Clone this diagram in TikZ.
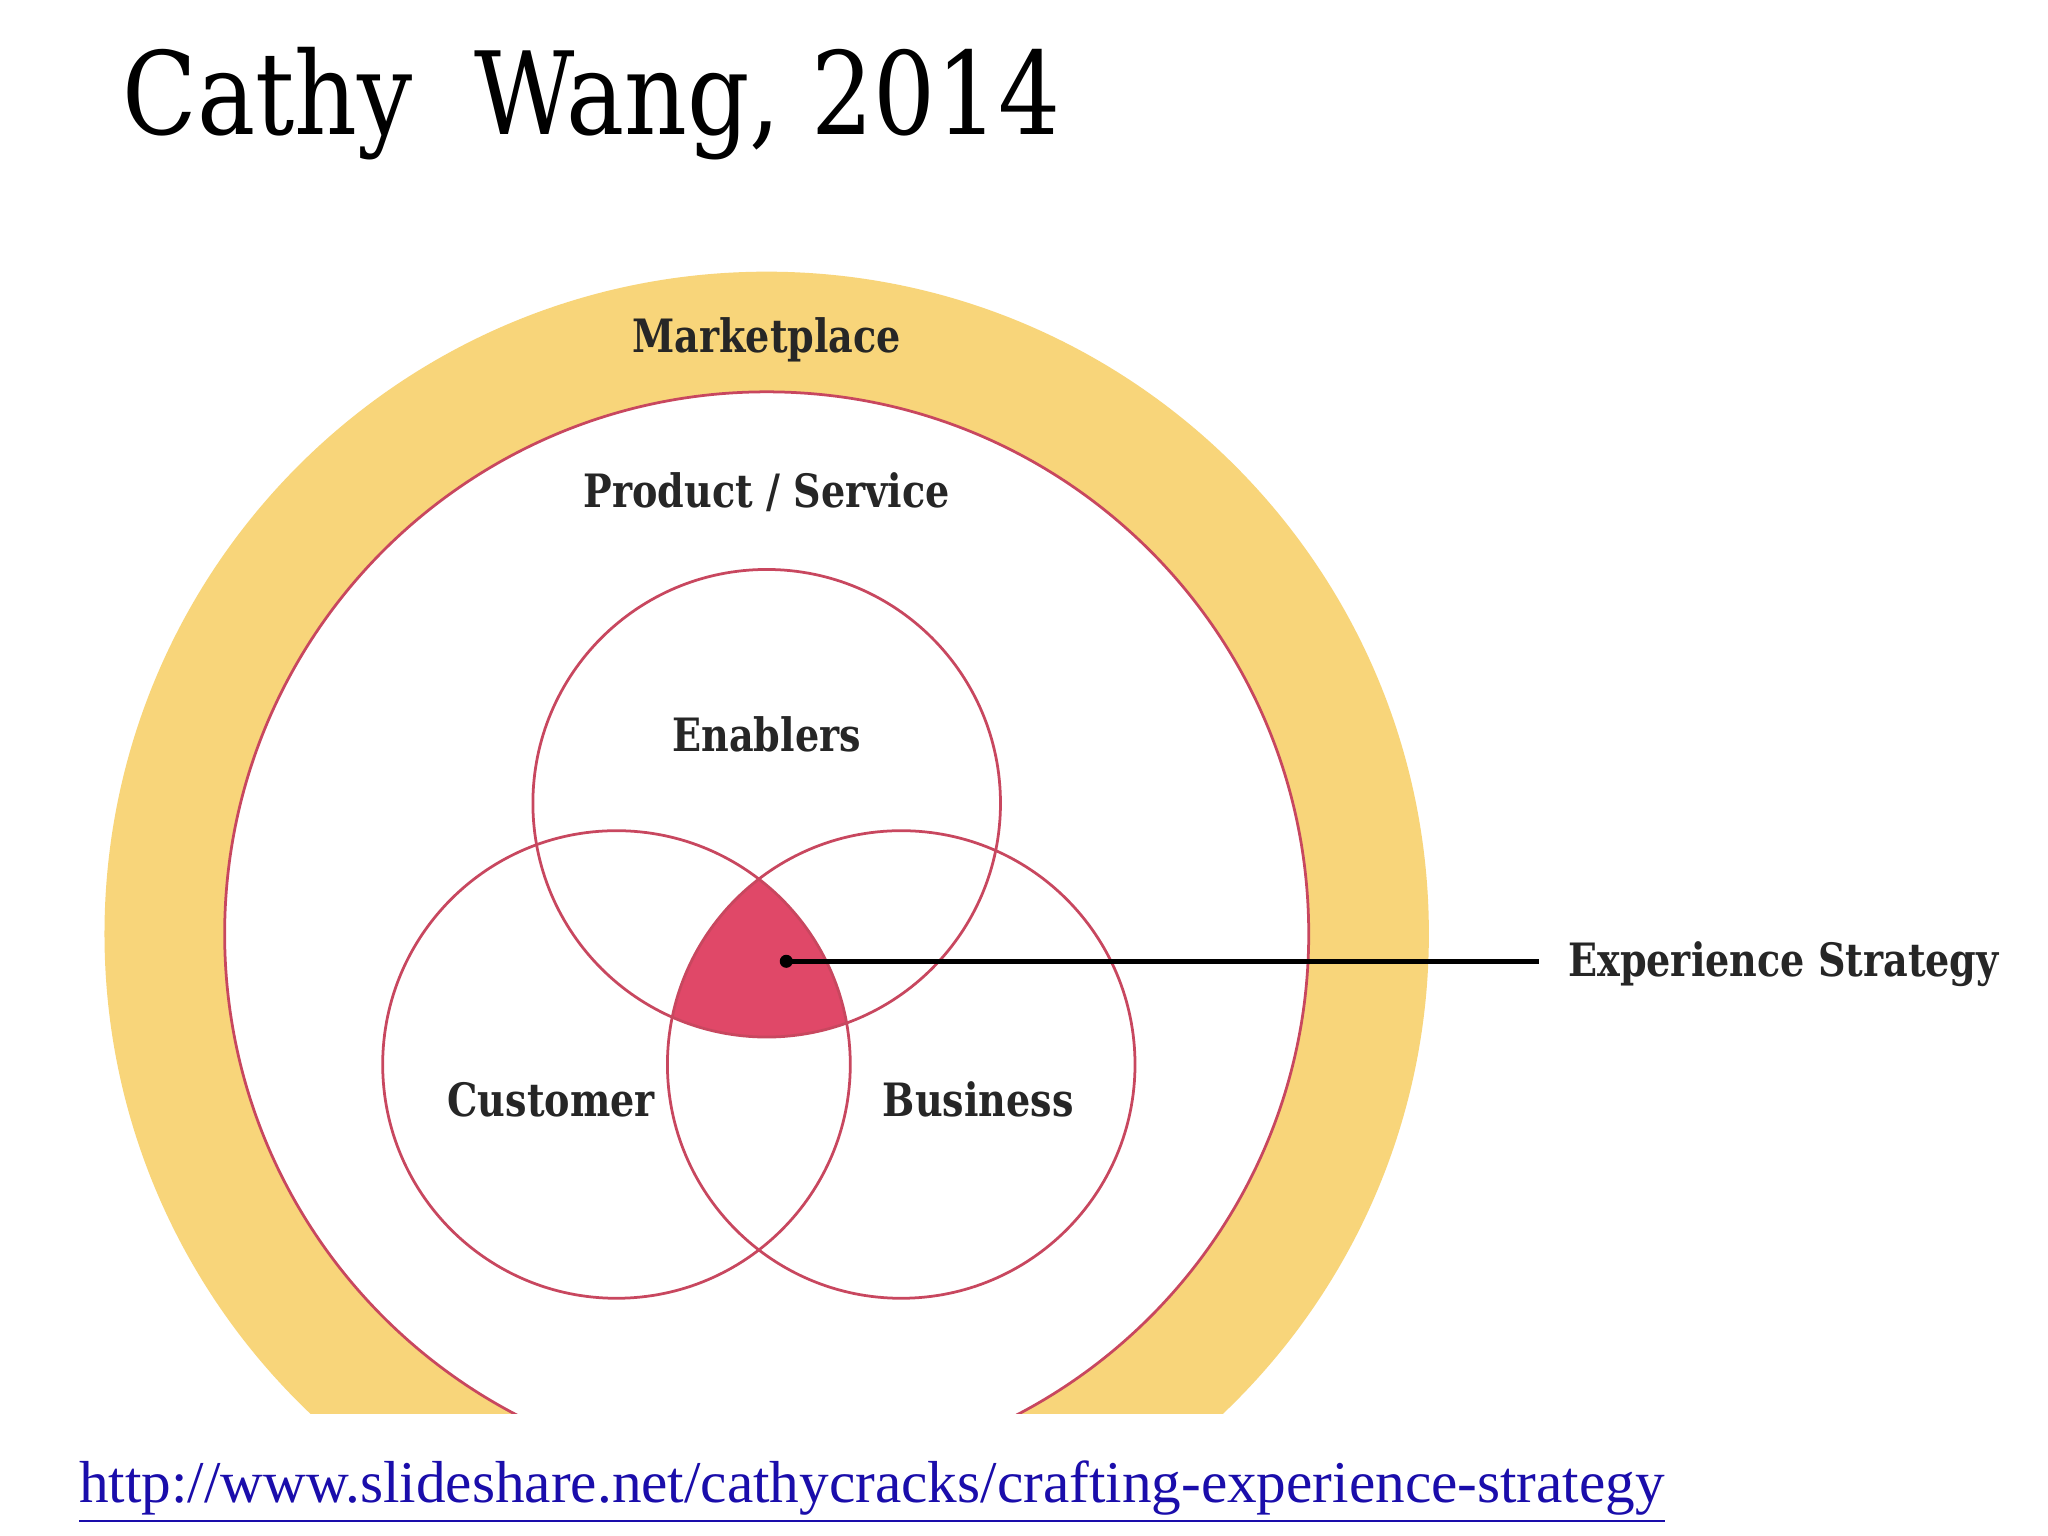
\documentclass[tikz,border=0pt]{standalone}
\usepackage{fontspec}
\setmainfont{Liberation Serif}
\newfontfamily\slab[FakeStretch=0.85]{DejaVu Serif}
\newfontfamily\slabl[FakeStretch=0.83]{DejaVu Serif}
\definecolor{gold}{HTML}{F8D57A}
\definecolor{rose}{HTML}{C8475F}
\definecolor{core}{HTML}{E04868}
\definecolor{linkblue}{HTML}{1A0DAB}
\begin{document}
\begin{tikzpicture}[x=0.01cm,y=-0.01cm,
  lbl/.style={font=\slabl\bfseries\fontsize{10}{12}\selectfont, text=black!85},
  ring/.style={draw=rose, line width=0.6pt}]
\useasboundingbox (0,0) rectangle (1568,1176);
\fill[white] (0,0) rectangle (1568,1176);
\node[anchor=base west, inner sep=0, font=\slab\fontsize{25}{30}\selectfont] (title) at (93,103) {Cathy\ \ Wang, 2014};
\begin{scope}
  \clip (0,0) rectangle (1568,1082);
  \fill[gold] (587,715) circle (507);
  \fill[white] (587,715) circle (415);
  \draw[ring] (587,715) circle (415);
\end{scope}
\begin{scope}
  \clip (587,615) circle (179);
  \clip (472,815) circle (179);
  \fill[core] (690,815) circle (179);
\end{scope}
\draw[ring] (587,615) circle (179);
\draw[ring] (472,815) circle (179);
\draw[ring] (690,815) circle (179);
\node[lbl] (mk) at (587,260) {Marketplace};
\node[lbl] (ps) at (587,377) {Product / Service};
\node[lbl] (en) at (587,562) {Enablers};
\node[lbl] (cu) at (422,842) {Customer};
\node[lbl] (bu) at (749,842) {Business};
\node[lbl, anchor=west, inner sep=0] (es) at (1200,738) {Experience Strategy};
\fill (602,736) circle (5) coordinate (dot);
\coordinate (lend) at (1178,736);
\draw[line width=1pt] (dot) -- (lend);
\node[anchor=base west, inner sep=0, text=linkblue, font=\fontsize{12.9}{15}\selectfont] (url) at (60,1150) {\underline{http://www.slideshare.net/cathycracks/crafting-experience-strategy}};
\end{tikzpicture}
\end{document}
